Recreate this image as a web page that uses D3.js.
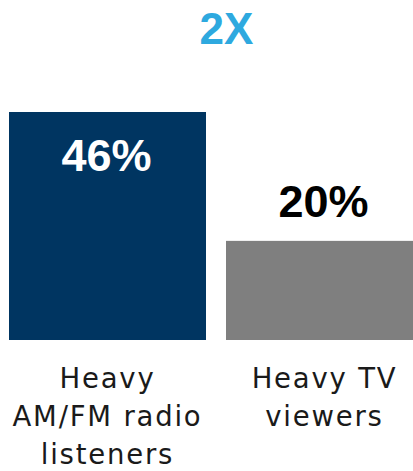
<!DOCTYPE html>
<html>
<head>
<meta charset="utf-8">
<script src="https://cdn.jsdelivr.net/npm/d3@7"></script>
<style>
  html, body { margin: 0; padding: 0; background: #ffffff; }
  svg { display: block; }
</style>
</head>
<body>
<div id="chart"></div>
<script>
// Share of each audience group
const categories = ["Heavy AM/FM radio listeners", "Heavy TV viewers"];
const labelLines = [["Heavy", "AM/FM radio", "listeners"], ["Heavy TV", "viewers"]];
const values = [46, 20];
const valueLabels = ["46%", "20%"];
const headline = "2X";
const barColors = ["#003561", "#7f7f7f"];

const width = 413, height = 471;

const svg = d3.select("#chart").append("svg")
  .attr("width", width)
  .attr("height", height);

const x = d3.scaleBand()
  .domain(categories)
  .range([9, 423])
  .paddingInner(0.0922)
  .paddingOuter(0);

const y = d3.scaleLinear()
  .domain([0, 46])
  .range([340, 112]);

// Bars
svg.selectAll("rect.bar")
  .data(categories)
  .join("rect")
  .attr("class", "bar")
  .attr("x", d => x(d))
  .attr("width", x.bandwidth())
  .attr("y", (d, i) => y(values[i]))
  .attr("height", (d, i) => y(0) - y(values[i]))
  .attr("fill", (d, i) => barColors[i]);

// Value labels: inside the tall bar, above the short one
svg.selectAll("text.value")
  .data(categories)
  .join("text")
  .attr("class", "value")
  .attr("x", d => x(d) + x.bandwidth() / 2 - 1)
  .attr("y", (d, i) => i === 0 ? y(values[i]) + 59 : y(values[i]) - 24)
  .attr("text-anchor", "middle")
  .attr("font-family", "'Liberation Sans', Arial, sans-serif")
  .attr("font-weight", "bold")
  .attr("font-size", 45)
  .attr("fill", (d, i) => i === 0 ? "#ffffff" : "#000000")
  .text((d, i) => valueLabels[i]);

// Category labels under the bars
const cat = svg.selectAll("text.cat")
  .data(categories)
  .join("text")
  .attr("class", "cat")
  .attr("text-anchor", "middle")
  .attr("font-family", "'DejaVu Sans', sans-serif")
  .attr("font-size", 27.5)
  .attr("letter-spacing", 1.8)
  .attr("fill", "#1a1a1a");

cat.each(function(d, i) {
  d3.select(this).selectAll("tspan")
    .data(labelLines[i])
    .join("tspan")
    .attr("x", x(d) + x.bandwidth() / 2)
    .attr("y", (t, j) => 388 + j * 38)
    .text(t => t);
});

// Headline comparison
svg.append("text")
  .attr("x", 226.5)
  .attr("y", 44)
  .attr("text-anchor", "middle")
  .attr("font-family", "'Liberation Sans', Arial, sans-serif")
  .attr("font-weight", "bold")
  .attr("font-size", 44)
  .attr("fill", "#2ea9df")
  .text(headline);
</script>
</body>
</html>
